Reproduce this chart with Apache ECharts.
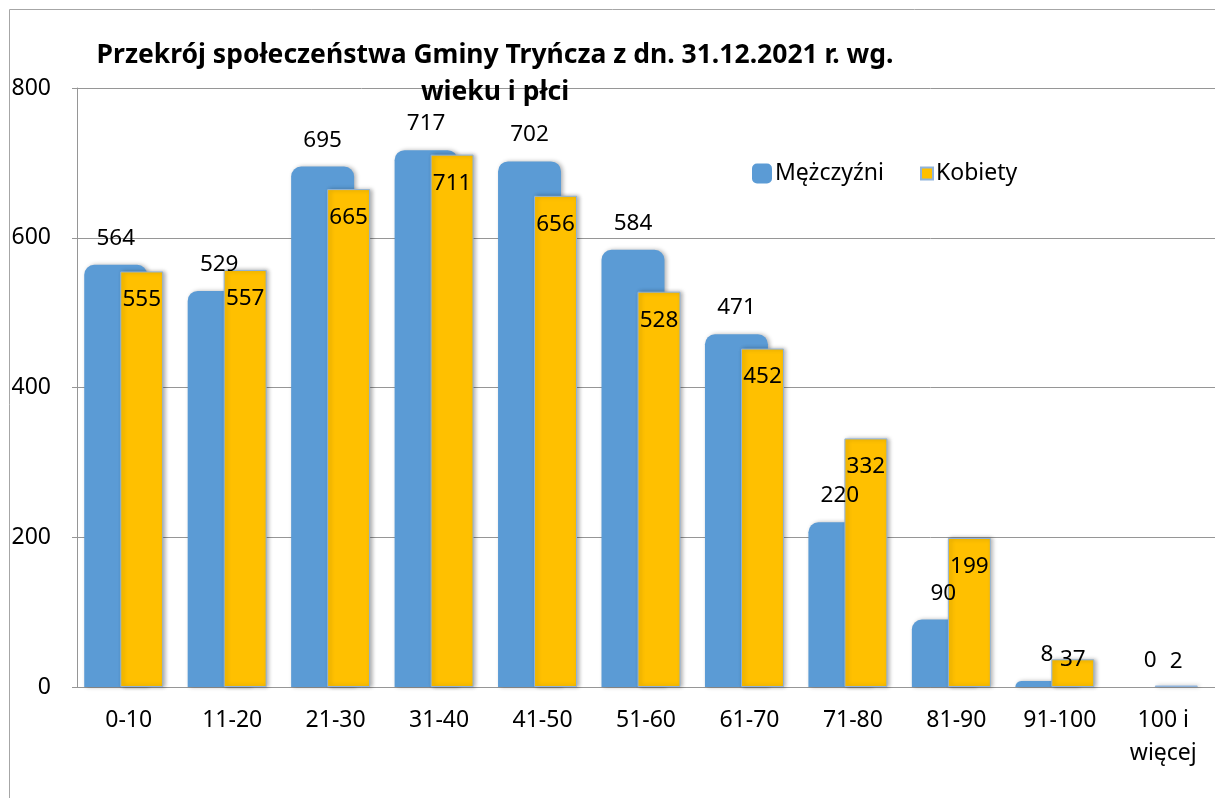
<!DOCTYPE html>
<html>
<head>
<meta charset="utf-8">
<script src="https://cdn.jsdelivr.net/npm/echarts@6/dist/echarts.min.js"></script>
<style>
html,body{margin:0;padding:0;background:#fff;}
#main{width:1215px;height:798px;}
</style>
</head>
<body>
<div id="main"></div>
<script>
const categories = ['0-10','11-20','21-30','31-40','41-50','51-60','61-70','71-80','81-90','91-100','100 i\nwięcej'];
const men = [564,529,695,717,702,584,471,220,90,8,0];
const women = [555,557,665,711,656,528,452,332,199,37,2];
const seriesNames = ['Mężczyźni','Kobiety'];
const titleText = 'Przekrój społeczeństwa Gminy Tryńcza z dn. 31.12.2021 r. wg.\nwieku i płci';

const FONT = 'Noto Sans';
const chart = echarts.init(document.getElementById('main'));

const womenData = women.map(function(v){
  if (v < 60) {
    return {value: v, label: {position: 'top', distance: 0, offset: [0, v > 10 ? 12 : -12]}};
  }
  return v;
});

chart.setOption({
  animation: false,
  textStyle: {fontFamily: FONT},
  graphic: [{
    type: 'rect', left: 7, top: 7, silent: true,
    shape: {width: 1300, height: 900},
    style: {fill: 'none', stroke: '#A6A6A6', lineWidth: 1}
  }],
  title: {
    text: titleText,
    left: 490, top: 32, textAlign: 'center',
    textStyle: {fontFamily: FONT, fontSize: 26.5, fontWeight: 'bold', color: '#000', lineHeight: 37}
  },
  legend: [{
    data: [{name: seriesNames[0], icon: 'roundRect'}],
    left: 747, top: 157, itemWidth: 20, itemHeight: 20,
    textStyle: {fontFamily: FONT, fontSize: 23, color: '#000', padding: [0,0,0,-2]}
  },{
    data: [{name: seriesNames[1], icon: 'rect'}],
    left: 915, top: 157, itemWidth: 12, itemHeight: 12,
    textStyle: {fontFamily: FONT, fontSize: 23, color: '#000', padding: [0,0,0,-2]}
  }],
  grid: [
    {left: 77, right: 0, top: 88, bottom: 111, show: false},
    {left: 72, right: 5, top: 88, bottom: 111, show: false}
  ],
  xAxis: [{
    type: 'category', gridIndex: 0, data: categories,
    axisLine: {lineStyle: {color: '#969696'}},
    axisTick: {show: false},
    axisLabel: {fontFamily: FONT, fontSize: 23, color: '#000', margin: 17, lineHeight: 33, interval: 0}
  },{
    type: 'category', gridIndex: 1, data: categories, show: false
  }],
  yAxis: [{
    type: 'value', gridIndex: 0, min: 0, max: 800, interval: 200,
    axisLine: {show: true, lineStyle: {color: '#969696'}},
    axisTick: {show: true, length: 5, lineStyle: {color: '#969696'}},
    splitLine: {lineStyle: {color: '#969696'}},
    axisLabel: {fontFamily: FONT, fontSize: 23, color: '#000', margin: 26}
  },{
    type: 'value', gridIndex: 1, min: 0, max: 800, interval: 200, show: false
  }],
  series: [{
    name: seriesNames[0], type: 'bar', xAxisIndex: 1, yAxisIndex: 1,
    data: men, barWidth: 63, barGap: '-42.86%',
    itemStyle: {color: '#5B9BD5', borderRadius: [10,10,0,0], shadowBlur: 4, shadowColor: 'rgba(0,0,0,0.3)', shadowOffsetX: 2},
    label: {show: true, position: 'top', distance: 15, fontFamily: FONT, fontSize: 22.5, color: '#000'}
  },{
    name: seriesNames[1], type: 'bar', xAxisIndex: 1, yAxisIndex: 1,
    data: womenData, barWidth: 43,
    itemStyle: {color: '#FFC000', borderColor: '#8FB3DC', borderWidth: 1, shadowBlur: 4, shadowColor: 'rgba(0,0,0,0.3)', shadowOffsetX: 2},
    label: {show: true, position: 'insideTop', distance: 17, fontFamily: FONT, fontSize: 22.5, color: '#000'}
  }]
});
</script>
</body>
</html>
